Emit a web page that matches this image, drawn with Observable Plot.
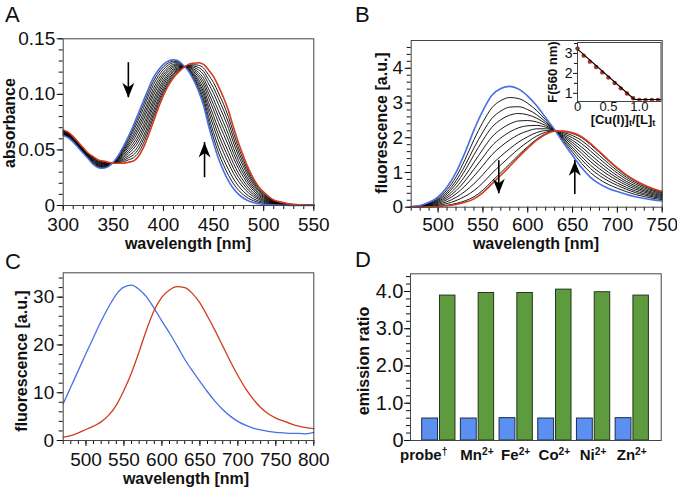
<!DOCTYPE html>
<html><head><meta charset="utf-8">
<script src="https://cdn.jsdelivr.net/npm/d3@7"></script>
<script src="https://cdn.jsdelivr.net/npm/@observablehq/plot@0.6"></script>
<style>
body{margin:0;background:#fff;}
#fig{position:relative;width:677px;height:489px;overflow:hidden;font-family:"Liberation Sans",Arial,Helvetica,sans-serif;color:#111;background:#fff;}
.letter{position:absolute;font-size:22px;line-height:1;}
.lab{position:absolute;font-weight:bold;font-size:16px;line-height:1;white-space:nowrap;}
.ylab{transform:translate(-50%,-50%) rotate(-90deg);}
.xlab{transform:translate(-50%,0);}
.xend{transform:translate(-100%,0);}
.lab sub{font-size:0.72em;vertical-align:-0.25em;line-height:0;}
.lab sup{font-size:0.68em;vertical-align:0.5em;line-height:0;}
</style></head><body><div id="fig"></div><script>
const FONT = '"Liberation Sans", Arial, Helvetica, sans-serif';
const BLUE = "#4a6fe3", RED = "#d13b1e";

// ---------- Panel A: absorbance titration ----------
const wlA = [300,305,310,315,320,325,330,335,340,345,350,355,360,365,370,375,380,385,390,395,400,405,410,415,420,425,430,435,440,445,450,455,460,465,470,475,480,485,490,495,500,505,510,515,520,525,530,535,540,545,550];
const absFree = [0.063,0.061,0.057,0.052,0.047,0.042,0.037,0.034,0.0335,0.035,0.039,0.045,0.053,0.062,0.072,0.083,0.094,0.105,0.115,0.122,0.127,0.130,0.131,0.130,0.126,0.121,0.113,0.103,0.090,0.072,0.056,0.042,0.031,0.022,0.015,0.010,0.0065,0.004,0.0025,0.0015,0.001,0.0007,0.0005,0.0003,0.0002,0.0001,0.0001,0.0001,0.0001,0.0001,0.0001];
const absCu = [0.068,0.066,0.062,0.057,0.052,0.047,0.044,0.041,0.040,0.039,0.038,0.038,0.038,0.039,0.040,0.044,0.052,0.063,0.0755,0.088,0.099,0.108,0.115,0.120,0.124,0.127,0.128,0.1285,0.127,0.122,0.116,0.107,0.097,0.085,0.070,0.056,0.044,0.033,0.024,0.017,0.012,0.008,0.005,0.0035,0.0025,0.0015,0.001,0.0007,0.0005,0.0004,0.0003];
const fracA = [0.08,0.16,0.25,0.33,0.41,0.50,0.58,0.66,0.75,0.83,0.91];
const xTicksA = [300,350,400,450,500,550];
const yTicksA = [0,0.05,0.10,0.15];
const arrowsA = [{x:365, y1:0.1285, y2:0.097, dir:"down"}, {x:441, y1:0.025, y2:0.0566, dir:"up"}];

// ---------- Panel B: fluorescence titration ----------
const wlB = [470,480,490,500,510,520,530,540,550,560,570,580,590,600,610,620,630,640,650,660,670,680,690,700,710,720,730,740,750];
const fluFree = [0.02,0.05,0.14,0.30,0.58,1.00,1.57,2.22,2.78,3.22,3.42,3.48,3.40,3.20,2.92,2.58,2.23,1.85,1.49,1.14,0.86,0.67,0.54,0.45,0.37,0.30,0.25,0.21,0.18];
const fluCu = [0.00,0.005,0.01,0.02,0.04,0.08,0.14,0.24,0.42,0.67,0.92,1.18,1.45,1.70,1.93,2.10,2.19,2.19,2.14,2.03,1.83,1.60,1.36,1.13,0.93,0.77,0.64,0.53,0.45];
const fracB = [0.14,0.26,0.36,0.47,0.57,0.67,0.78,0.88,0.97];
const xTicksB = [500,550,600,650,700,750];
const yTicksB = [0,1,2,3,4];
const arrowsB = [{x:567.7, y1:1.34, y2:0.39, dir:"down"}, {x:652.5, y1:0.365, y2:1.34, dir:"up"}];
// inset
const cuEq = [0,0.1,0.2,0.3,0.4,0.5,0.6,0.7,0.8,0.9,1.0,1.1,1.2,1.3];
const F560 = [3.25,2.89,2.59,2.32,2.05,1.79,1.52,1.25,0.99,0.75,0.67,0.67,0.67,0.67];
const fitEq = [0,0.92,1.35];
const fitF = [3.22,0.69,0.69];

// ---------- Panel C: emission spectra ----------
const wlC = [470,480,490,500,510,520,530,540,550,560,570,580,590,600,610,620,630,640,650,660,670,680,690,700,710,720,730,740,750,760,770,780,790,800];
const emFree = [7.7,11.2,14.7,18.2,21.6,25.0,28.0,30.6,32.1,32.5,31.6,30.0,27.6,25.0,22.5,19.8,17.0,14.6,12.4,10.2,8.2,6.5,5.1,4.0,3.2,2.6,2.2,1.9,1.7,1.6,1.5,1.5,1.4,1.7];
const emCu = [0.7,1.0,1.6,2.3,3.0,3.9,5.3,7.4,10.5,14.2,18.6,23.3,27.3,30.0,31.5,32.2,32.0,30.8,28.8,26.0,23.0,19.8,16.6,13.6,10.9,8.7,6.9,5.6,4.7,4.1,3.5,3.0,2.7,2.5];
const xTicksC = [500,550,600,650,700,750,800];
const yTicksC = [0,10,20,30];

// ---------- Panel D: emission ratio bars ----------
const catsD = ["probe","Mn","Fe","Co","Ni","Zn"];
const supD = ["\u2020","2+","2+","2+","2+","2+"];
const ratioFree = [0.59,0.59,0.60,0.59,0.59,0.60];
const ratioCu = [3.89,3.96,3.96,4.05,3.98,3.89];
const yTicksD = [0,1,2,3,4];

// ---------- helpers ----------
const fig = document.getElementById("fig");
const styleBase = {fontFamily: FONT, fontSize: "19px", color: "#111", background: "transparent", overflow: "visible"};
function place(el, left, top){ el.style.position="absolute"; el.style.left=left+"px"; el.style.top=top+"px"; fig.appendChild(el); }
function rows(wl, vals, k){ return wl.map((w,i)=>({wl:w, v:vals[i], k})); }
function mix(wl, a, b, fracs){ return fracs.flatMap((f,k)=>wl.map((w,i)=>({wl:w, v:(1-f)*a[i]+f*b[i], k}))); }
const headUp = {draw(ctx){ ctx.moveTo(0,0); ctx.lineTo(6,15); ctx.lineTo(0,10.5); ctx.lineTo(-6,15); ctx.closePath(); }};
const headDown = {draw(ctx){ ctx.moveTo(0,0); ctx.lineTo(6,-15); ctx.lineTo(0,-10.5); ctx.lineTo(-6,-15); ctx.closePath(); }};
function arrowMarks(arr){
  return [
    Plot.ruleX(arr, {x:"x", y1:"y1", y2:"y2", stroke:"#000", strokeWidth:1.6}),
    Plot.dot(arr.filter(d=>d.dir==="up"), {x:"x", y:"y2", symbol: headUp, r:5, fill:"#000", stroke:"none"}),
    Plot.dot(arr.filter(d=>d.dir==="down"), {x:"x", y:"y2", symbol: headDown, r:5, fill:"#000", stroke:"none"})
  ];
}
function addText(cls, html, left, top){ const d=document.createElement("div"); d.className=cls; d.innerHTML=html; d.style.left=left+"px"; d.style.top=top+"px"; fig.appendChild(d); return d; }
const FRAME = "#444";

// ---------- Panel A ----------
const plotA = Plot.plot({
  width: 338, height: 252, marginLeft: 62.7, marginRight: 24.7, marginTop: 38.3, marginBottom: 47,
  x: {domain: [300, 550]}, y: {domain: [0, 0.15]}, style: styleBase,
  marks: [
    Plot.axisX(d3.range(300, 551, 10), {tickSize: 4, fill: "none", label: null}),
    Plot.axisX(xTicksA, {tickSize: 6, tickPadding: 6, label: null, fontSize: 19}),
    Plot.axisY(d3.range(0, 0.1505, 0.01), {tickSize: 4, fill: "none", label: null}),
    Plot.axisY(yTicksA, {tickSize: 6, tickPadding: 2, label: null, fontSize: 19, tickFormat: d => d === 0 ? "0" : d.toFixed(2)}),
    Plot.line(mix(wlA, absFree, absCu, fracA), {x:"wl", y:"v", z:"k", stroke:"#000", strokeWidth:0.9, curve:"monotone-x"}),
    Plot.line(rows(wlA, absFree, "free"), {x:"wl", y:"v", stroke:BLUE, strokeWidth:1.6, curve:"monotone-x"}),
    Plot.line(rows(wlA, absCu, "cu"), {x:"wl", y:"v", stroke:RED, strokeWidth:1.6, curve:"monotone-x"}),
    ...arrowMarks(arrowsA),
    Plot.frame({stroke: FRAME})
  ]
});
place(plotA, 0, 0);

// ---------- Panel B ----------
const plotB = Plot.plot({
  width: 339, height: 252, marginLeft: 72.7, marginRight: 15.3, marginTop: 40, marginBottom: 45.3,
  x: {domain: [470, 750]}, y: {domain: [0, 4.8]}, style: styleBase,
  marks: [
    Plot.axisX(d3.range(470, 751, 10), {tickSize: 4, fill: "none", label: null}),
    Plot.axisX(xTicksB, {tickSize: 6, tickPadding: 4, label: null, fontSize: 19}),
    Plot.axisY(d3.range(0, 4.75, 0.2), {tickSize: 4, fill: "none", label: null}),
    Plot.axisY(yTicksB, {tickSize: 6, tickPadding: 2, label: null, fontSize: 19}),
    Plot.line(mix(wlB, fluFree, fluCu, fracB), {x:"wl", y:"v", z:"k", stroke:"#000", strokeWidth:0.9, curve:"monotone-x"}),
    Plot.line(rows(wlB, fluFree, "free"), {x:"wl", y:"v", stroke:BLUE, strokeWidth:1.6, curve:"monotone-x"}),
    Plot.line(rows(wlB, fluCu, "cu"), {x:"wl", y:"v", stroke:RED, strokeWidth:1.6, curve:"monotone-x"}),
    ...arrowMarks(arrowsB),
    Plot.frame({stroke: FRAME})
  ]
});
place(plotB, 338, 0);

// inset
const plotInset = Plot.plot({
  width: 130, height: 95, marginLeft: 37, marginRight: 9.5, marginTop: 12, marginBottom: 24,
  x: {domain: [0, 1.35]}, y: {domain: [0.59, 3.55]}, style: {...styleBase, fontSize: "13px"},
  marks: [
    Plot.axisY([1.5, 2.5, 3.5], {tickSize: 3, fill: "none", label: null}),
    Plot.axisY([1, 2, 3], {tickSize: 4, tickPadding: 1, label: null, fontSize: 14}),
    Plot.axisX([0, 0.5, 1], {tickSize: 0, tickPadding: 0, label: null, fontSize: 13, tickFormat: d => d === 0 ? "0" : d.toFixed(1)}),
    Plot.dot(cuEq.map((e,i)=>({eq:e, F:F560[i]})), {x:"eq", y:"F", r:2.2, fill:"#a8352a", stroke:"none"}),
    Plot.line(fitEq.map((e,i)=>({eq:e, F:fitF[i]})), {x:"eq", y:"F", stroke:"#000", strokeWidth:1.2}),
    Plot.frame({stroke: FRAME})
  ]
});
place(plotInset, 540, 30);

// ---------- Panel C ----------
const plotC = Plot.plot({
  width: 338, height: 239, marginLeft: 62.7, marginRight: 24.7, marginTop: 22.3, marginBottom: 49,
  x: {domain: [470, 800]}, y: {domain: [0, 35.1]}, style: styleBase,
  marks: [
    Plot.axisX(d3.range(470, 801, 10), {tickSize: 4, fill: "none", label: null}),
    Plot.axisX(xTicksC, {tickSize: 6, tickPadding: 6, label: null, fontSize: 19}),
    Plot.axisY(d3.range(0, 35, 2), {tickSize: 4, fill: "none", label: null}),
    Plot.axisY(yTicksC, {tickSize: 6, tickPadding: 3, label: null, fontSize: 19}),
    Plot.line(rows(wlC, emFree, "free"), {x:"wl", y:"v", stroke:BLUE, strokeWidth:1.3, curve:"monotone-x"}),
    Plot.line(rows(wlC, emCu, "cu"), {x:"wl", y:"v", stroke:RED, strokeWidth:1.3, curve:"monotone-x"}),
    Plot.frame({stroke: FRAME})
  ]
});
place(plotC, 0, 250);

// ---------- Panel D ----------
const barsD = catsD.map((c,i)=>({i, cat:c, free:ratioFree[i], cu:ratioCu[i]}));
const plotD = Plot.plot({
  width: 339, height: 239, marginLeft: 72, marginRight: 16.3, marginTop: 23.3, marginBottom: 49,
  x: {domain: [-0.732, 5.748], axis: null}, y: {domain: [0, 4.475]}, style: styleBase,
  marks: [
    Plot.axisY(d3.range(0, 4.45, 0.2), {tickSize: 4, fill: "none", label: null}),
    Plot.axisY(yTicksD, {tickSize: 6, tickPadding: 1, label: null, fontSize: 20, tickFormat: d => d === 0 ? "0" : d.toFixed(1)}),
    Plot.rectY(barsD, {x1: d => d.i - 0.43, x2: d => d.i - 0.02, y: "free", fill: "#5b8ff0", stroke: "#1f2d4a", strokeWidth: 1}),
    Plot.rectY(barsD, {x1: d => d.i + 0.03, x2: d => d.i + 0.43, y: "cu", fill: "#5d9b3e", stroke: "#22361a", strokeWidth: 1}),
    Plot.frame({stroke: FRAME})
  ]
});
place(plotD, 338, 250);
// category labels placed with the plot's own x scale
const xD = plotD.scale("x");
barsD.forEach(d => {
  const cx = 338 + xD.apply(d.i);
  const el = addText("lab " + (d.i === 0 ? "xend" : "xlab"), d.cat + "<sup>" + supD[d.i] + "</sup>", d.i === 0 ? cx + 9 : cx, 446.5);
  el.style.fontSize = "15px";
});

// ---------- text labels ----------
addText("letter", "A", 5, 4);
addText("letter", "B", 355, 4);
addText("letter", "C", 5, 251);
addText("letter", "D", 355, 249);
addText("lab ylab", "absorbance", 10, 123);
addText("lab xlab", "wavelength [nm]", 188, 235.5);
addText("lab ylab", "fluorescence [a.u.]", 382, 123);
addText("lab xlab", "wavelength [nm]", 536, 235.5);
addText("lab ylab", "fluorescence [a.u.]", 22, 361);
addText("lab xlab", "wavelength [nm]", 186, 470.5);
addText("lab ylab", "emission ratio", 364, 361);
const fl = addText("lab ylab", "F(560 nm)", 552, 72); fl.style.fontSize = "13px";
const cl = addText("lab xlab", "[Cu(I)]<sub>t</sub>/[L]<sub>t</sub>", 623, 113); cl.style.fontSize = "13px";
</script></body></html>
